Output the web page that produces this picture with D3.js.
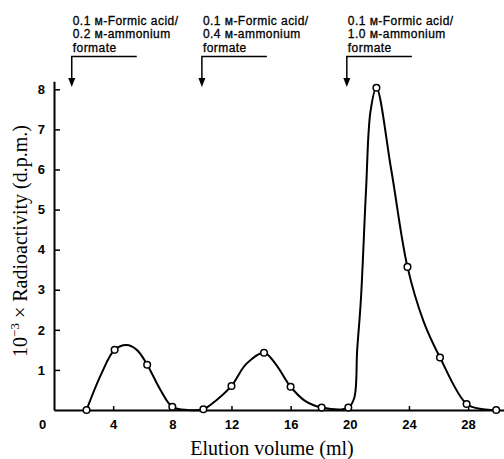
<!DOCTYPE html>
<html>
<head>
<meta charset="utf-8">
<script src="https://cdn.jsdelivr.net/npm/d3@7"></script>
<style>
  body { margin: 0; background: #fff; }
  svg { display: block; }
  .tick-label { font-family: "Liberation Sans", Arial, sans-serif; font-size: 13px; font-weight: bold; }
  .note { font-family: "Liberation Sans", "DejaVu Sans", Arial, sans-serif; font-size: 12px; letter-spacing: 0.45px; stroke: #000; stroke-width: 0.3px; }
  .axis-title { font-family: "Liberation Serif", "Times New Roman", serif; }
</style>
</head>
<body>
<svg id="chart" width="504" height="459"></svg>
<script>
// measured fractions (open circles)
var volume = [2.2, 4.1, 6.3, 8.0, 10.1, 12.0, 14.2, 16.0, 18.1, 19.9, 21.8, 23.9, 26.1, 27.9, 29.9];
var activity = [0, 1.5, 1.13, 0.08, 0.02, 0.6, 1.43, 0.58, 0.06, 0.06, 8.04, 3.57, 1.31, 0.15, 0];

// hand drawn curve through the points
var lineVolume = [2.2, 3.2, 4.1, 4.9, 5.6, 6.3, 7.2, 8.0, 9.0, 10.1, 11.0, 12.0, 13.0, 14.2, 15.0, 16.0, 17.0, 18.1, 19.9, 20.3, 20.5, 20.75, 21.1, 21.4, 21.8, 22.8, 23.9, 25.0, 26.1, 27.9, 29.0, 29.9];
var lineActivity = [0, 0.9, 1.5, 1.62, 1.5, 1.13, 0.5, 0.08, 0.0, 0.02, 0.25, 0.6, 1.15, 1.43, 1.14, 0.58, 0.22, 0.06, 0.06, 0.3, 1.5, 2.75, 5.5, 7.45, 8.04, 6.0, 3.57, 2.2, 1.31, 0.15, 0.02, 0];

var xTicks = [0, 4, 8, 12, 16, 20, 24, 28];
var yTicks = [1, 2, 3, 4, 5, 6, 7, 8];

// buffer changes (arrows)
var arrowVolume = [1.2, 10.0, 19.8];
var arrowLabels = [
  ["0.1 \u1D0D-Formic acid/", "0.2 \u1D0D-ammonium", "formate"],
  ["0.1 \u1D0D-Formic acid/", "0.4 \u1D0D-ammonium", "formate"],
  ["0.1 \u1D0D-Formic acid/", "1.0 \u1D0D-ammonium", "formate"]
];

var svg = d3.select('#chart');

var x = d3.scaleLinear()
  .domain([0, 30.4])
  .range([54, 503.6]);

var y = d3.scaleLinear()
  .domain([0, 8.2])
  .range([410, 81.3]);

// axes
var xAxis = svg.append('g')
  .attr('transform', 'translate(0,' + y(0) + ')')
  .call(d3.axisBottom(x).tickValues(xTicks).tickSize(-4).tickPadding(10).tickSizeOuter(0));

var yAxis = svg.append('g')
  .attr('transform', 'translate(' + x(0) + ',0)')
  .call(d3.axisLeft(y).tickValues(yTicks).tickSize(-6).tickPadding(9).tickSizeOuter(0));

[xAxis, yAxis].forEach(function(a){
  a.attr('font-size', null).attr('font-family', null);
  a.select('.domain').attr('stroke', '#000').attr('stroke-width', 2);
  a.selectAll('.tick line').attr('stroke', '#000').attr('stroke-width', 1.5);
  a.selectAll('.tick text')
    .attr('class', 'tick-label')
    .attr('fill', '#000');
});

// the "0" sits left of the corner
xAxis.selectAll('.tick').filter(function(d){ return d === 0; })
  .select('text').attr('dx', -12);
xAxis.selectAll('.tick').filter(function(d){ return d === 0; })
  .select('line').remove();

// curve
var lineData = lineVolume.map(function(v, i){ return {v: v, a: lineActivity[i]}; });
var line = d3.line()
  .x(function(d){ return x(d.v); })
  .y(function(d){ return y(d.a); })
  .curve(d3.curveCatmullRom.alpha(0.5));

svg.append('path')
  .datum(lineData)
  .attr('d', line)
  .attr('fill', 'none')
  .attr('stroke', '#000')
  .attr('stroke-width', 2);

// points
svg.selectAll('.pt')
  .data(volume.map(function(v, i){ return {v: v, a: activity[i]}; }))
  .enter().append('circle')
  .attr('class', 'pt')
  .attr('cx', function(d){ return x(d.v); })
  .attr('cy', function(d){ return y(d.a); })
  .attr('r', 3.3)
  .attr('fill', '#fff')
  .attr('stroke', '#000')
  .attr('stroke-width', 1.5);

// arrows with buffer labels
var arrows = svg.selectAll('.arrow')
  .data(arrowVolume)
  .enter().append('g')
  .attr('class', 'arrow')
  .attr('transform', function(d){ return 'translate(' + x(d) + ',0)'; });

arrows.append('path')
  .attr('d', 'M0,80 V56.5 H65')
  .attr('fill', 'none')
  .attr('stroke', '#000')
  .attr('stroke-width', 1.5);

arrows.append('path')
  .attr('d', 'M-3.5,78 L3.5,78 L0,87 Z')
  .attr('fill', '#000');

arrows.each(function(d, i){
  var g = d3.select(this);
  arrowLabels[i].forEach(function(s, k){
    g.append('text')
      .attr('class', 'note')
      .attr('x', 1)
      .attr('y', 24.8 + k * 13.4)
      .text(s);
  });
});

// axis titles
svg.append('text')
  .attr('class', 'axis-title')
  .attr('x', 272)
  .attr('y', 455)
  .attr('text-anchor', 'middle')
  .attr('font-size', '20px')
  .text('Elution volume (ml)');

var yt = svg.append('text')
  .attr('class', 'axis-title')
  .attr('transform', 'translate(27,241) rotate(-90)')
  .attr('text-anchor', 'middle')
  .attr('font-size', '20px');
yt.append('tspan').text('10');
yt.append('tspan').attr('font-size', '13px').attr('dy', -8).text('\u22123');
yt.append('tspan').attr('dy', 8).text(' \u00d7 Radioactivity (d.p.m.)');
</script>
</body>
</html>
